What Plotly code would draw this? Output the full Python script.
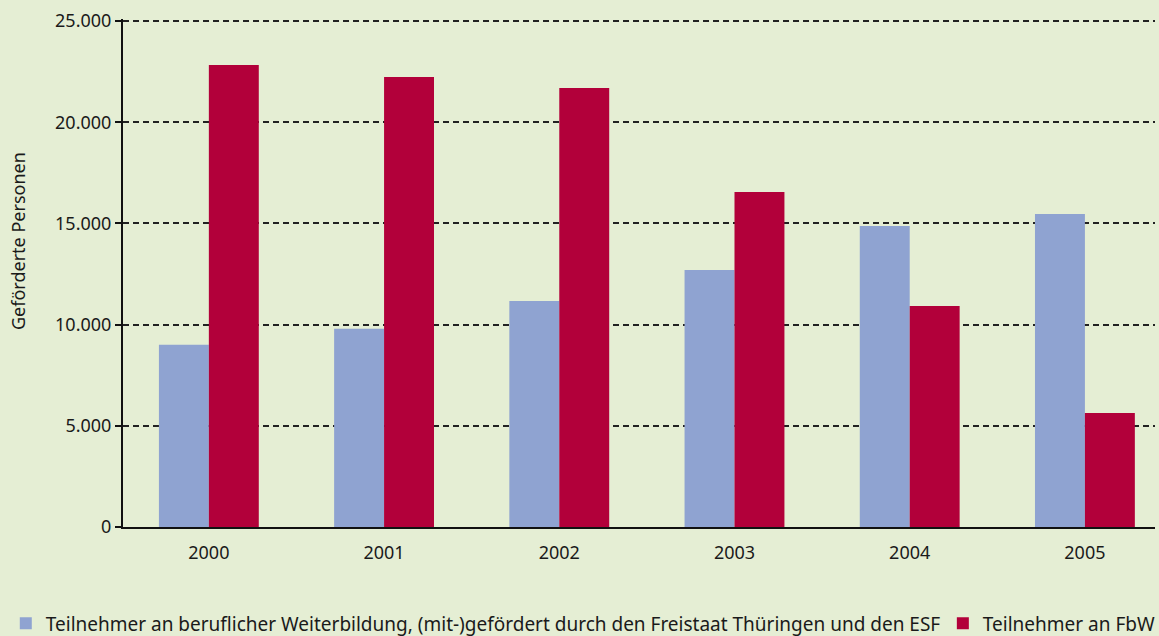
import plotly.graph_objects as go

years = ["2000", "2001", "2002", "2003", "2004", "2005"]
esf = [9000, 9800, 11170, 12700, 14870, 15460]
fbw = [22830, 22230, 21690, 16550, 10920, 5630]
name_esf = "Teilnehmer an beruflicher Weiterbildung, (mit-)gefördert durch den Freistaat Thüringen und den ESF"
name_fbw = "Teilnehmer an FbW"
y_ticks = [0, 5000, 10000, 15000, 20000, 25000]

BG = "#e5eed4"
FONT = "Noto Sans"

fig = go.Figure()
fig.add_trace(go.Bar(x=years, y=esf, name=name_esf, marker_color="#8fa3d1",
                     marker_line_width=0, legend="legend"))
fig.add_trace(go.Bar(x=years, y=fbw, name=name_fbw, marker_color="#b2003a",
                     marker_line_width=0, legend="legend2"))

fig.update_layout(
    width=1159, height=636,
    paper_bgcolor=BG, plot_bgcolor=BG,
    margin=dict(l=123, r=4, t=19, b=109),
    separators=",.",
    barmode="group", bargap=0.43, bargroupgap=0,
    font=dict(family=FONT, size=18, color="#1a1a1a"),
    showlegend=True,
    legend=dict(orientation="h", xref="container", yref="container",
                x=0.005, y=0.02, xanchor="left", yanchor="middle",
                bgcolor="rgba(0,0,0,0)", font=dict(size=19)),
    legend2=dict(orientation="h", xref="container", yref="container",
                 x=0.8135, y=0.02, xanchor="left", yanchor="middle",
                 bgcolor="rgba(0,0,0,0)", font=dict(size=19)),
    xaxis=dict(type="category", range=[-0.49, 5.40], showline=True,
               linecolor="#111111", linewidth=2, ticks="outside", ticklen=8,
               tickcolor="rgba(0,0,0,0)", showgrid=False,
               tickfont=dict(size=18)),
    yaxis=dict(range=[0, 25100], tickvals=y_ticks, tickformat=",d",
               showline=True, linecolor="#111111", linewidth=2,
               ticks="outside", ticklen=6, tickcolor="#111111", tickwidth=1.5,
               showgrid=True, gridcolor="#222222", gridwidth=1.5,
               griddash="6px,4px", zeroline=False, tickfont=dict(size=18)),
    annotations=[dict(text="Geförderte Personen", textangle=-90,
                      xref="paper", yref="paper", x=(18 - 123) / 1032, y=0.563,
                      xanchor="center", yanchor="middle", showarrow=False,
                      font=dict(size=18))],
)

fig.write_html("out.html", config={"displayModeBar": False},
               post_script="document.body.style.margin='0';document.body.style.padding='0';")
